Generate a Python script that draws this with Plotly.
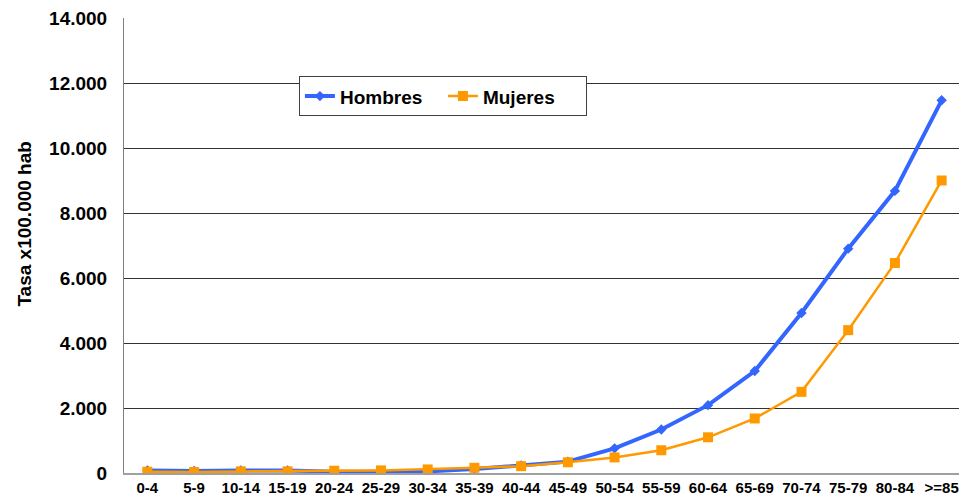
import plotly.graph_objects as go

categories = ["0-4", "5-9", "10-14", "15-19", "20-24", "25-29", "30-34", "35-39", "40-44",
              "45-49", "50-54", "55-59", "60-64", "65-69", "70-74", "75-79", "80-84", ">=85"]
hombres = [80, 60, 80, 80, 40, 50, 50, 120, 230, 350, 760, 1340, 2090, 3140, 4930, 6910, 8690, 11480]
mujeres = [40, 30, 50, 50, 70, 80, 110, 160, 210, 330, 480, 700, 1100, 1680, 2500, 4400, 6470, 9010]
y_ticks = [0, 2000, 4000, 6000, 8000, 10000, 12000, 14000]

fig = go.Figure()
fig.add_trace(go.Scatter(
    x=categories, y=hombres, name="Hombres", mode="lines+markers",
    line=dict(color="#3366FF", width=4),
    marker=dict(symbol="diamond", size=8, color="#3366FF"),
))
fig.add_trace(go.Scatter(
    x=categories, y=mujeres, name="Mujeres", mode="lines+markers",
    line=dict(color="#FF9900", width=2.5),
    marker=dict(symbol="square", size=10, color="#FF9900"),
))

font = "Liberation Sans, Arial, sans-serif"
fig.update_layout(
    width=959, height=495,
    margin=dict(l=116, r=2, t=10, b=30, autoexpand=False),
    paper_bgcolor="white", plot_bgcolor="white",
    separators=",.",
    font=dict(family=font, color="black"),
    showlegend=True,
    legend=dict(
        orientation="h", x=0.208, y=0.872, xanchor="left", yanchor="top",
        bordercolor="#404040", borderwidth=1, bgcolor="white",
        font=dict(size=19, family=font, color="black", weight="bold"),
        itemwidth=30, tracegroupgap=0, entrywidth=98, entrywidthmode="pixels",
    ),
    xaxis=dict(
        type="category", showgrid=False, showline=True, linecolor="#A0A0A0", linewidth=2,
        ticks="", tickfont=dict(size=15, weight="bold", family=font),
        range=[-0.5, 17.5], fixedrange=True,
    ),
    yaxis=dict(
        range=[0, 14015], tickvals=y_ticks, tickformat=",d",
        showgrid=True, gridcolor="#333333", gridwidth=1,
        showline=True, linecolor="#808080", linewidth=1, zeroline=False,
        ticks="", ticklabelstandoff=12,
        tickfont=dict(size=19, weight="bold", family=font),
    ),
    annotations=[dict(
        text="Tasa x100.000 hab", textangle=-90, showarrow=False,
        xref="paper", yref="paper", x=-0.1177, y=0.546,
        xanchor="center", yanchor="middle",
        font=dict(size=19, weight="bold", family=font, color="black"),
    )],
)

fig.write_html("out.html")
